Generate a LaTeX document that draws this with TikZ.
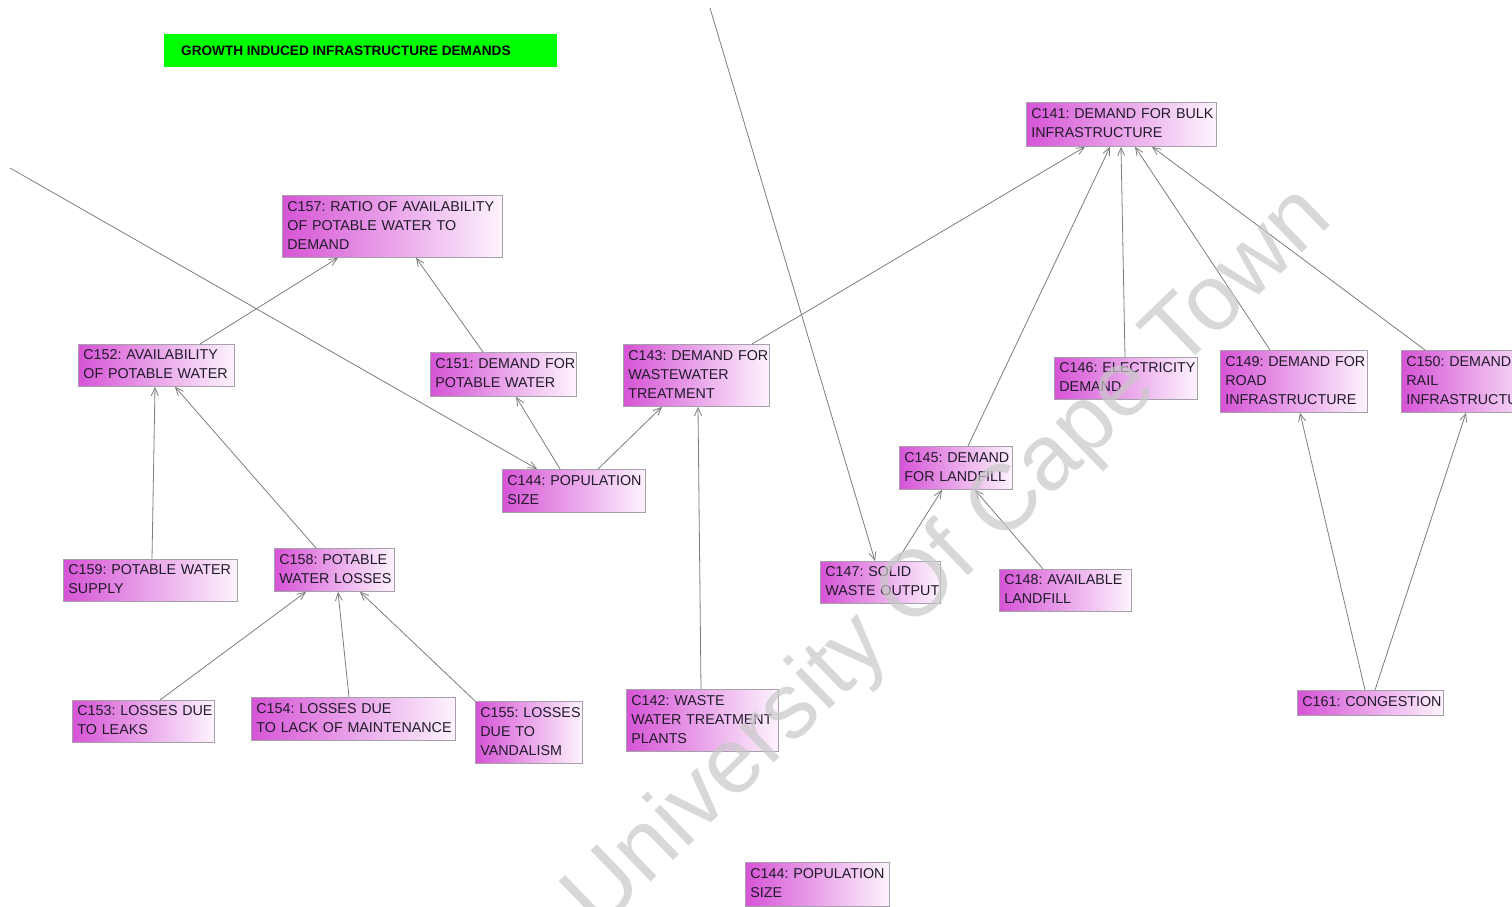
\documentclass[tikz,border=0pt]{standalone}
\usepackage{fontspec}
\setmainfont{Liberation Sans}
\usetikzlibrary{arrows.meta,calc}
\definecolor{boxL}{RGB}{214,84,214}
\definecolor{boxM}{RGB}{238,178,238}
\definecolor{boxR}{RGB}{253,244,253}
\definecolor{boxline}{RGB}{165,160,170}
\definecolor{txt}{RGB}{32,26,42}
\definecolor{conn}{RGB}{125,125,125}
\definecolor{titlegreen}{RGB}{0,255,0}
\definecolor{wm}{RGB}{200,200,200}
\tikzset{
  cbox/.style={draw=boxline, line width=0.8pt, left color=boxL, middle color=boxM, right color=boxR,
    anchor=north west, align=left, inner xsep=5pt, inner ysep=0pt, text=txt,
    font=\fontsize{14.3}{19}\selectfont},
  arc/.style={draw=conn, line width=0.8pt, -{Straight Barb[length=8pt,width=7pt,line width=0.8pt]}},
}
% cb{name}{x}{y}{width}{height}{lines}
\newcommand{\cb}[6]{\node[cbox, text width=#4pt-10pt, minimum height=#5pt] (#1) at (#2,#3)
  {\begin{tabular}{@{}l@{}}#6\end{tabular}};}
\begin{document}
\frenchspacing
\begin{tikzpicture}[x=1pt,y=-1pt]
\useasboundingbox (0,0) rectangle (1512,907);
\clip (0,0) rectangle (1512,907);
\fill[white] (0,0) rectangle (1512,907);

% title banner
\node[fill=titlegreen, anchor=north west, minimum width=393pt, minimum height=33pt, inner sep=0pt] (title) at (164,34) {};
\node[anchor=west, inner sep=0pt, font=\bfseries\fontsize{13.6}{15}\selectfont] (titletext) at (181,51) {GROWTH INDUCED INFRASTRUCTURE DEMANDS};

% concept boxes
\cb{c141}{1026}{102}{190}{44}{C141: DEMAND FOR BULK\\INFRASTRUCTURE}
\cb{c157}{282}{195}{220}{62}{C157: RATIO OF AVAILABILITY\\OF POTABLE WATER TO\\DEMAND}
\cb{c152}{78}{344}{156}{42}{C152: AVAILABILITY\\OF POTABLE WATER}
\cb{c151}{430}{352}{146}{44}{C151: DEMAND FOR\\POTABLE WATER}
\cb{c143}{623}{344}{146}{62}{C143: DEMAND FOR\\WASTEWATER\\TREATMENT}
\cb{c146}{1054}{357}{143}{42}{C146: ELECTRICITY\\DEMAND}
\cb{c149}{1220}{350}{147}{62}{C149: DEMAND FOR\\ROAD\\INFRASTRUCTURE}
\cb{c150}{1401}{350}{147}{62}{C150: DEMAND FOR\\RAIL\\INFRASTRUCTURE}
\cb{c144}{502}{469}{143}{43}{C144: POPULATION\\SIZE}
\cb{c145}{899}{446}{113}{43}{C145: DEMAND\\FOR LANDFILL}
\cb{c159}{63}{559}{174}{42}{C159: POTABLE WATER\\SUPPLY}
\cb{c158}{274}{548}{120}{43}{C158: POTABLE\\WATER LOSSES}
\cb{c147}{820}{561}{120}{42}{C147: SOLID\\WASTE OUTPUT}
\cb{c148}{999}{569}{132}{42}{C148: AVAILABLE\\LANDFILL}
\cb{c153}{72}{700}{142}{42}{C153: LOSSES DUE\\TO LEAKS}
\cb{c154}{251}{697}{204}{43}{C154: LOSSES DUE\\TO LACK OF MAINTENANCE}
\cb{c155}{475}{701}{107}{62}{C155: LOSSES\\DUE TO\\VANDALISM}
\cb{c142}{626}{689}{152}{62}{C142: WASTE\\WATER TREATMENT\\PLANTS}
\cb{c161}{1297}{690}{146}{25}{C161: CONGESTION}
\cb{c144b}{745}{862}{144}{44}{C144: POPULATION\\SIZE}

% loose ends of links coming from outside the view
\coordinate (topend) at (710,8);
\coordinate (leftend) at (10,168);

% links
\draw[arc] (topend) -- ([xshift=55pt]c147.north west);
\draw[arc] (leftend) -- ([xshift=35pt]c144.north west);
\draw[arc] ([xshift=122pt]c152.north west) -- ([xshift=56pt]c157.south west);
\draw[arc] ([xshift=53pt]c151.north west) -- ([xshift=134pt]c157.south west);
\draw[arc] ([xshift=89pt]c159.north west) -- ([xshift=77pt]c152.south west);
\draw[arc] ([xshift=42pt]c158.north west) -- ([xshift=97pt]c152.south west);
\draw[arc] ([xshift=58pt]c144.north west) -- ([xshift=86pt]c151.south west);
\draw[arc] ([xshift=96pt]c144.north west) -- ([xshift=39pt]c143.south west);
\draw[arc] ([xshift=129pt]c143.north west) -- ([xshift=59pt]c141.south west);
\draw[arc] ([xshift=75pt]c142.north west) -- ([xshift=75pt]c143.south west);
\draw[arc] ([xshift=88pt]c153.north west) -- ([xshift=32pt]c158.south west);
\draw[arc] ([xshift=98pt]c154.north west) -- ([xshift=64pt]c158.south west);
\draw[arc] (c155.north west) -- ([xshift=86pt]c158.south west);
\draw[arc] ([xshift=69pt]c145.north west) -- ([xshift=84pt]c141.south west);
\draw[arc] ([xshift=71pt]c146.north west) -- ([xshift=95pt]c141.south west);
\draw[arc] ([xshift=50pt]c149.north west) -- ([xshift=109pt]c141.south west);
\draw[arc] ([xshift=24pt]c150.north west) -- ([xshift=126pt]c141.south west);
\draw[arc] ([xshift=77pt]c147.north west) -- ([xshift=43pt]c145.south west);
\draw[arc] ([xshift=44pt]c148.north west) -- ([xshift=76pt]c145.south west);
\draw[arc] ([xshift=68pt]c161.north west) -- ([xshift=80pt]c149.south west);
\draw[arc] ([xshift=78pt]c161.north west) -- ([xshift=65pt]c150.south west);

% watermark
\node[rotate=44, text=wm, opacity=0.7, inner sep=0pt, font=\fontsize{93}{93}\selectfont] (watermark) at (950,560) {University Of Cape Town};
\end{tikzpicture}
\end{document}
